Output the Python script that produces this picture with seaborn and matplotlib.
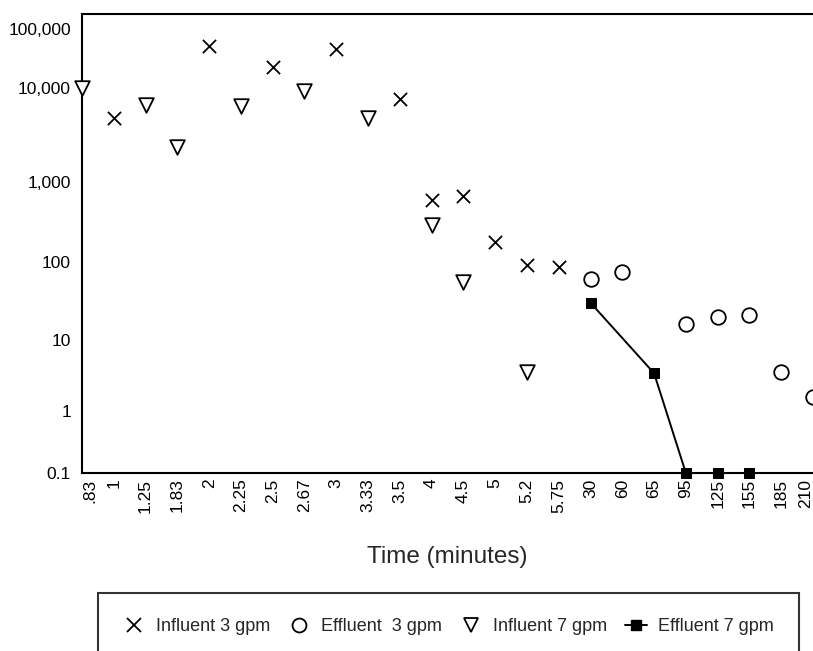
import numpy as np
import pandas as pd
import matplotlib
matplotlib.use("Agg")
import matplotlib.pyplot as plt
from matplotlib.lines import Line2D
import seaborn as sns

# x categories (time in minutes, as printed on the axis)
time_labels = [".83", "1", "1.25", "1.83", "2", "2.25", "2.5", "2.67", "3", "3.33",
               "3.5", "4", "4.5", "5", "5.2", "5.75", "30", "60", "65", "95",
               "125", "155", "185", "210"]

influent_3_time = ["1", "2", "2.5", "3", "3.5", "4", "4.5", "5", "5.2", "5.75"]
influent_3 = [4800, 51000, 23000, 46000, 7600, 600, 670, 178, 92, 86]

effluent_3_time = ["30", "60", "95", "125", "155", "185", "210"]
effluent_3 = [60, 75, 16, 20, 21, 3.6, 1.6]

influent_7_time = [".83", "1.25", "1.83", "2.25", "2.67", "3.33", "4", "4.5", "5.2"]
influent_7 = [10000, 6600, 2350, 6400, 9300, 4800, 290, 55, 3.6]

effluent_7_time = ["30", "65", "95", "125", "155"]
effluent_7 = [30, 3.4, 0.1, 0.1, 0.1]

y_ticks = [0.1, 1, 10, 100, 1000, 10000, 100000]
y_ticklabels = ["0.1", "1", "10", "100", "1,000", "10,000", "100,000"]


def to_df(times, values):
    return pd.DataFrame({"pos": [time_labels.index(t) for t in times],
                         "count": values})


inf3 = to_df(influent_3_time, influent_3)
eff3 = to_df(effluent_3_time, effluent_3)
inf7 = to_df(influent_7_time, influent_7)
eff7 = to_df(effluent_7_time, effluent_7)

# the printed y axis is log-like but the decades are not evenly spaced,
# so use a piecewise log scale
dec = np.array([-1, 0, 1, 2, 3, 4, 5, 5.254])
dec_pos = np.array([0, 62, 133, 211, 291, 385, 444, 459], dtype=float)


def fwd(v):
    v = np.clip(np.asarray(v, dtype=float), 1e-3, None)
    return np.interp(np.log10(v), dec, dec_pos)


def inv(p):
    return 10 ** np.interp(np.asarray(p, dtype=float), dec_pos, dec)


sns.set_style("white")
plt.rcParams["font.family"] = ["Liberation Sans", "DejaVu Sans"]

fig = plt.figure(figsize=(8.13, 6.51), dpi=100)
ax = fig.add_axes([82 / 813, 1 - 473 / 651, 1 - 82 / 813, (473 - 14) / 651])
ax.set_yscale("function", functions=(fwd, inv))

sns.scatterplot(data=inf3, x="pos", y="count", ax=ax, marker="x", s=90,
                color="black", linewidth=1.3, clip_on=False, zorder=3)
sns.scatterplot(data=eff3, x="pos", y="count", ax=ax, marker="o", s=110,
                facecolor="white", edgecolor="black", linewidth=1.3,
                clip_on=False, zorder=3)
sns.scatterplot(data=inf7, x="pos", y="count", ax=ax, marker="v", s=110,
                facecolor="white", edgecolor="black", linewidth=1.3,
                clip_on=False, zorder=3)
sns.lineplot(data=eff7, x="pos", y="count", ax=ax, color="black",
             linewidth=1.4, marker="s", markersize=7.5, markeredgecolor="black",
             clip_on=False, zorder=4)

ax.set_xlim(0, len(time_labels) - 1)
ax.set_ylim(0.1, 10 ** 5.254)
ax.set_xticks(range(len(time_labels)))
ax.set_xticklabels(time_labels, rotation=90, fontsize=12.5)
xt = ax.get_xticklabels()
xt[0].set_horizontalalignment("left")
xt[-1].set_horizontalalignment("right")
ax.set_yticks(y_ticks)
ax.set_yticklabels(y_ticklabels, fontsize=12.5)
ax.yaxis.set_minor_locator(matplotlib.ticker.NullLocator())
ax.tick_params(axis="both", length=0, colors="black")
ax.tick_params(axis="y", pad=8)
ax.tick_params(axis="x", pad=4)

for side in ["left", "top", "bottom"]:
    ax.spines[side].set_visible(True)
    ax.spines[side].set_color("black")
    ax.spines[side].set_linewidth(1.5)
ax.spines["right"].set_visible(False)

ax.set_ylabel("")
ax.set_xlabel("Time (minutes)", fontsize=17.5, labelpad=24)

handles = [
    Line2D([], [], linestyle="none", marker="x", color="black", markersize=10, markeredgewidth=1.3),
    Line2D([], [], linestyle="none", marker="o", markerfacecolor="white", markeredgecolor="black", markersize=10, markeredgewidth=1.3),
    Line2D([], [], linestyle="none", marker="v", markerfacecolor="white", markeredgecolor="black", markersize=10, markeredgewidth=1.3),
    Line2D([], [], color="black", linewidth=1.4, marker="s", markersize=7),
]
labels = ["Influent 3 gpm", "Effluent  3 gpm", "Influent 7 gpm", "Effluent 7 gpm"]
leg = fig.legend(handles, labels, loc="upper left", ncol=4, mode="expand",
                 bbox_to_anchor=(98 / 813, 0, 701 / 813, 1 - 593 / 651),
                 borderaxespad=0, borderpad=1.4, fontsize=13, frameon=True,
                 fancybox=False, handlelength=1.2, handletextpad=0.6,
                 columnspacing=1.5)
leg.get_frame().set_edgecolor("black")
leg.get_frame().set_linewidth(1.5)

fig.savefig("out.png", dpi=100)
